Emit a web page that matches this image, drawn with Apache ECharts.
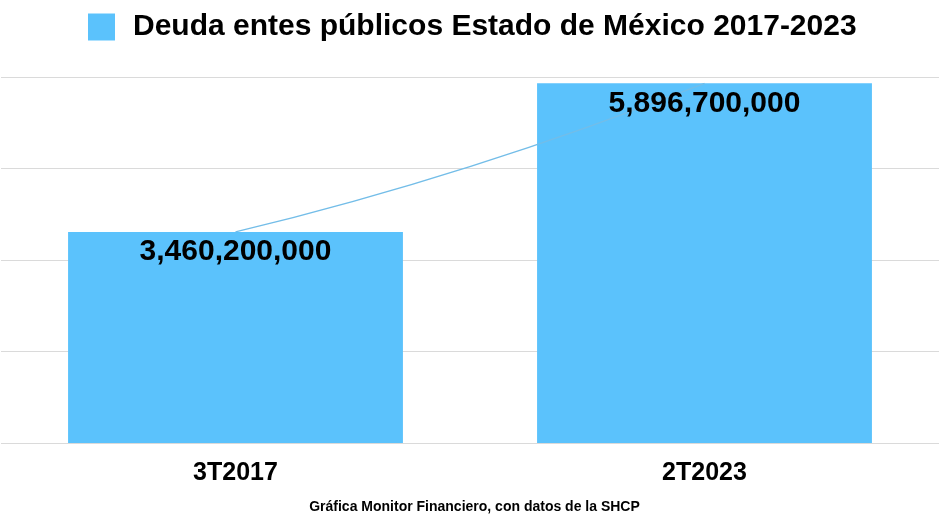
<!DOCTYPE html>
<html>
<head>
<meta charset="utf-8">
<script src="https://cdn.jsdelivr.net/npm/echarts@6/dist/echarts.min.js"></script>
<style>
html,body{margin:0;padding:0;background:#fff;}
#chart{width:949px;height:530px;}
</style>
</head>
<body>
<div id="chart"></div>
<script>
const categories = ['3T2017', '2T2023'];
const deuda = [3460200000, 5896700000];
const seriesName = 'Deuda entes públicos Estado de México 2017-2023';
const footer = 'Gráfica Monitor Financiero, con datos de la SHCP';

const FONT = '"Liberation Sans", Arial, sans-serif';
const fmt = v => v.toLocaleString('en-US');

const chart = echarts.init(document.getElementById('chart'), null, {renderer: 'canvas'});
chart.setOption({
  animation: false,
  backgroundColor: '#ffffff',
  legend: {
    data: [seriesName],
    left: 83, top: 7,
    itemWidth: 27, itemHeight: 27,
    icon: 'rect',
    textStyle: {fontFamily: FONT, fontSize: 30, fontWeight: 'bold', color: '#000', padding: [0, 0, 0, 13]}
  },
  graphic: [{
    type: 'text', left: 'center', top: 500,
    style: {text: footer, font: 'bold 14px ' + FONT, fill: '#000'}
  }],
  grid: {left: 1, right: 10, top: 77, bottom: 87, containLabel: false},
  xAxis: {
    type: 'category', data: categories,
    axisLine: {show: false}, axisTick: {show: false},
    axisLabel: {fontFamily: FONT, fontSize: 25, fontWeight: 'bold', color: '#000', margin: 18}
  },
  yAxis: {
    type: 'value', min: 0, max: 6000000000, interval: 1500000000,
    axisLabel: {show: false}, axisLine: {show: false}, axisTick: {show: false},
    splitLine: {lineStyle: {color: '#dadada', width: 1}}
  },
  series: [
    {
      name: seriesName, type: 'bar', data: deuda, barWidth: '71.4%', z: 2,
      itemStyle: {color: '#5bc2fc'}
    },
    {
      name: 'trend', type: 'custom', z: 3, silent: true,
      data: [0],
      renderItem: function (params, api) {
        const p0 = api.coord([0, deuda[0]]);
        const p1 = api.coord([1, deuda[1]]);
        const cx = (p0[0] + p1[0]) / 2;
        const cy = (p0[1] + p1[1]) / 2 + 0.12 * (p0[1] - p1[1]);
        return {
          type: 'bezierCurve',
          shape: {x1: p0[0], y1: p0[1], x2: p1[0], y2: p1[1], cpx1: cx, cpy1: cy},
          style: {stroke: '#73bde8', lineWidth: 1.3, fill: null}
        };
      }
    },
    {
      name: 'labels', type: 'bar', data: deuda, barWidth: '71.4%', barGap: '-100%', z: 4, silent: true,
      itemStyle: {color: 'rgba(0,0,0,0)'},
      label: {
        show: true, position: 'insideTop', distance: 5,
        fontFamily: FONT, fontSize: 30, fontWeight: 'bold', color: '#000',
        formatter: p => fmt(p.value)
      }
    }
  ]
});
</script>
</body>
</html>
